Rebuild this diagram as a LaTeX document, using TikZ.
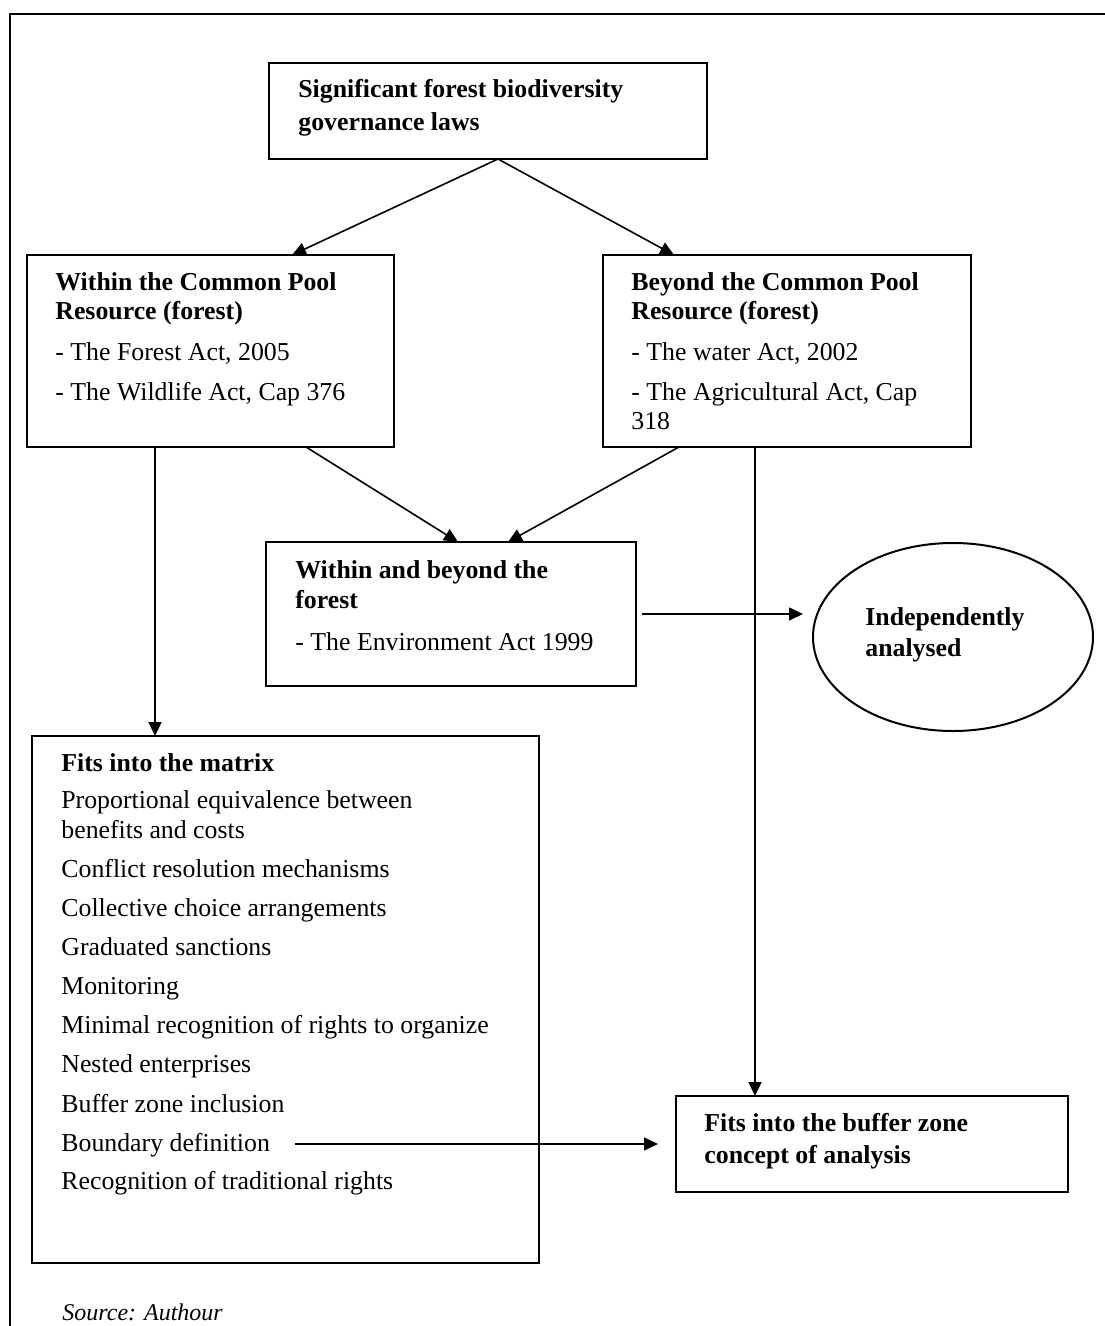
\documentclass[tikz,border=0pt]{standalone}
\usepackage{fontspec}
\setmainfont{Liberation Serif}
\usetikzlibrary{calc,arrows.meta,shapes.geometric}
\begin{document}
\begin{tikzpicture}[x=0.5pt,y=-0.5pt,
  box/.style={draw,line width=1pt,inner sep=0pt,outer sep=0pt,anchor=north west},
  oval/.style={draw,ellipse,line width=1pt,inner sep=0pt,outer sep=0pt},
  txt/.style={inner sep=0pt,anchor=base west,font=\fontsize{12.9pt}{15pt}\selectfont},
  btxt/.style={txt,font=\fontsize{12.9pt}{15pt}\selectfont\bfseries},
  arr/.style={line width=0.8pt,-{Triangle[length=7pt,width=6.5pt]}},
  frameline/.style={line width=1pt}]
\useasboundingbox (0,0) rectangle (1104,1326);

% outer frame (runs off the page to the right and at the bottom)
\draw[frameline] (10,1340) -- (10,14) -- (1120,14);

% top box
\node[box,minimum width=219pt,minimum height=48pt] (top) at (269,63) {};
\node[btxt] (topA) at (298,98) {Significant forest biodiversity};
\node[btxt] (topB) at (298,131) {governance laws};

% within the common pool resource
\node[box,minimum width=183.5pt,minimum height=96pt] (within) at (27,255) {};
\node[btxt] (wiA) at (55,291) {Within the Common Pool};
\node[btxt] (wiB) at (55,320) {Resource (forest)};
\node[txt] (wiC) at (55,360) {- The Forest Act, 2005};
\node[txt] (wiD) at (55,400) {- The Wildlife Act, Cap 376};

% beyond the common pool resource
\node[box,minimum width=184pt,minimum height=96pt] (beyond) at (603,255) {};
\node[btxt] (beA) at (631,291) {Beyond the Common Pool};
\node[btxt] (beB) at (631,320) {Resource (forest)};
\node[txt] (beC) at (631,360) {- The water Act, 2002};
\node[txt] (beD) at (631,400) {- The Agricultural Act, Cap};
\node[txt] (beE) at (631,429) {318};

% within and beyond
\node[box,minimum width=185pt,minimum height=72pt] (wab) at (266,542) {};
\node[btxt] (wabA) at (295,578) {Within and beyond the};
\node[btxt] (wabB) at (295,608) {forest};
\node[txt] (wabC) at (295,650) {- The Environment Act 1999};

% independently analysed
\node[oval,minimum width=140pt,minimum height=94pt] (ell) at (953,637) {};
\node[btxt] (ellA) at (865,625) {Independently};
\node[btxt] (ellB) at (865,656) {analysed};

% matrix box
\node[box,minimum width=253.5pt,minimum height=263.5pt] (matrix) at (32,736) {};
\node[btxt] (mA) at (61,771) {Fits into the matrix};
\node[txt] (mB) at (61,808) {Proportional equivalence between};
\node[txt] (mC) at (61,838) {benefits and costs};
\node[txt] (mD) at (61,877) {Conflict resolution mechanisms};
\node[txt] (mE) at (61,916) {Collective choice arrangements};
\node[txt] (mF) at (61,955) {Graduated sanctions};
\node[txt] (mG) at (61,994.5) {Monitoring};
\node[txt] (mH) at (61,1033.6) {Minimal recognition of rights to organize};
\node[txt] (mI) at (61,1072.8) {Nested enterprises};
\node[txt] (mJ) at (61,1112) {Buffer zone inclusion};
\node[txt] (mK) at (61,1151) {Boundary definition};
\node[txt] (mL) at (61,1189) {Recognition of traditional rights};

% buffer zone box
\node[box,minimum width=196pt,minimum height=48pt] (buffer) at (676,1096) {};
\node[btxt] (bufA) at (704,1131) {Fits into the buffer zone};
\node[btxt] (bufB) at (704,1163) {concept of analysis};

% source line
\node[txt,font=\fontsize{12pt}{14pt}\selectfont\itshape] (src) at (62,1320) {Source: Authour};

% connectors
\draw[arr] ($(top.south west)+(229,0)$) -- ($(within.north west)+(265,0)$);
\draw[arr] ($(top.south west)+(229,0)$) -- ($(beyond.north west)+(71,0)$);
\draw[arr] ($(within.south west)+(128,0)$) -- ($(matrix.north west)+(123,0)$);
\draw[arr] ($(within.south west)+(279,0)$) -- ($(wab.north west)+(192,0)$);
\draw[arr] ($(beyond.south west)+(76,0)$) -- ($(wab.north west)+(242,0)$);
\draw[arr] ($(beyond.south west)+(152,0)$) -- ($(buffer.north west)+(79,0)$);
\draw[arr] ($(wab.east)+(6,0)$) -- ($(ell.west |- wab.east)+(-10,0)$);
\draw[arr] ($(matrix.west |- buffer.west)+(263,0)$) -- ($(buffer.west)+(-18,0)$);
\end{tikzpicture}
\end{document}
